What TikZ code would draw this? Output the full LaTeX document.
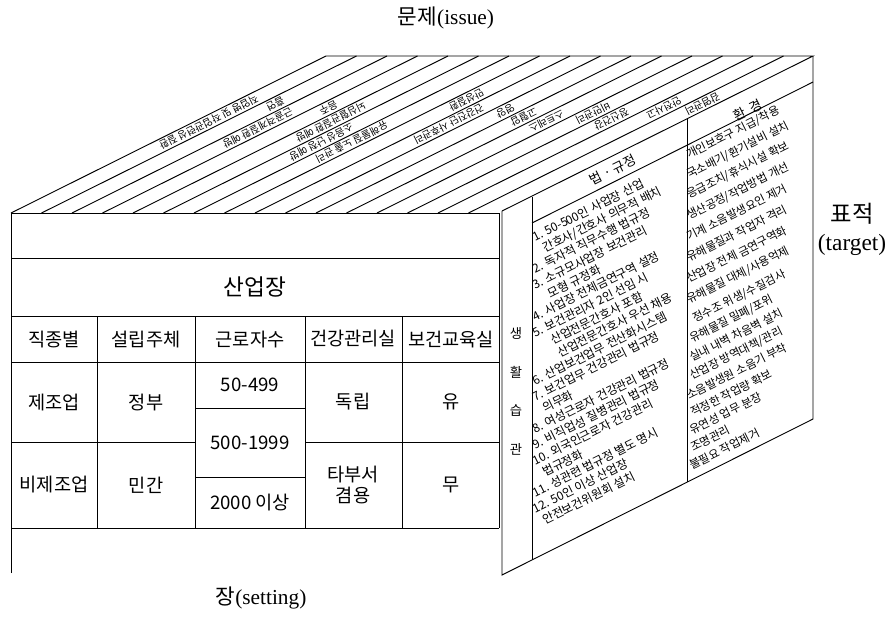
\documentclass[tikz,border=0pt]{standalone}
\usepackage{fontspec}
\setmainfont{Liberation Serif}
\newfontfamily\krfont{Noto Sans CJK KR}
\usetikzlibrary{positioning}
\tikzstyle{edge}=[black,line width=0.7pt]
\tikzstyle{cell}=[font=\krfont\fontsize{14}{16}\selectfont,inner sep=1pt,align=center]
\tikzstyle{lst}=[font=\krfont\fontsize{8.6}{10}\selectfont,rotate=26.57,anchor=base west,inner sep=0pt]
\tikzstyle{lawlst}=[lst,font=\krfont\fontsize{9}{10}\selectfont]
\tikzstyle{hdr}=[font=\krfont\fontsize{10}{11}\selectfont,rotate=26.57,inner sep=0pt]
\tikzstyle{iss}=[font=\krfont\fontsize{7.6}{9}\selectfont,rotate=206.57,inner sep=0pt]
\tikzstyle{ttl}=[font=\fontsize{16}{19}\selectfont,align=center,inner sep=0pt]

\begin{document}
\begin{tikzpicture}[x=0.75pt,y=-0.75pt]
\useasboundingbox (0,0) rectangle (892,619);
% front face (setting)
\coordinate (fl) at (11,213); \coordinate (fr) at (499,213);
\coordinate (bl) at (326,56); \coordinate (br) at (813,56);
\draw[edge] (11,573) -- (fl) -- (fr) -- (499,528);
\draw[edge] (11,258) -- (499,258);
\draw[edge] (11,316) -- (499,316);
\draw[edge] (11,362) -- (499,362);
\draw[edge] (11,528) -- (499,528);
\draw[edge] (11,442) -- (195,442) (305,442) -- (499,442);
\draw[edge] (195,408) -- (305,408) (195,477) -- (305,477);
\foreach \x in {97,195,305,402} \draw[edge] (\x,316) -- (\x,528);
% top face (issue)
\draw[edge] (fl) -- (bl) -- (br) -- (502,211);
\foreach \i in {1,...,15} \draw[edge] ({11+\i*30.5},213) -- ++(315,-157);
% side face (target)
\draw[edge] (502,211) -- (502,575) -- (813,419) -- (br);
\draw[edge] (532,197) -- (532,560);
\draw[edge] (687,119) -- (687,482);
\draw[edge] (532,223) -- (813,82);

% table
\node[cell,font=\krfont\fontsize{17}{20}\selectfont] (sanup) at (255,287) {산업장};
\node[cell] (h1) at (54,339) {직종별};
\node[cell] (h2) at (146,339) {설립주체};
\node[cell] (h3) at (250,339) {근로자수};
\node[cell] (h4) at (353,339) {건강관리실};
\node[cell] (h5) at (451,339) {보건교육실};
\node[cell] (a1) at (54,402) {제조업};
\node[cell] (a2) at (146,402) {정부};
\node[cell] (a3) at (250,385) {50-499};
\node[cell] (a4) at (353,402) {독립};
\node[cell] (a5) at (451,402) {유};
\node[cell] (m3) at (250,443) {500-1999};
\node[cell] (b1) at (54,485) {비제조업};
\node[cell] (b2) at (146,485) {민간};
\node[cell] (b3) at (250,503) {2000 이상};
\node[cell] (b4) at (353,485) {타부서\\겸용};
\node[cell] (b5) at (451,485) {무};

% life style column
\foreach \c/\y in {생/333,활/372,습/410,관/449}
  \node[font=\krfont\fontsize{10}{11}\selectfont] (ls\y) at (516,\y) {\c};

% law column
\node[hdr] (law) at (613,170) {법 · 규정};
\node[lawlst] (l1) at (535,242) {1. 50-500인 사업장 산업};
\node[lawlst] (l2) at (545,253) {간호사/간호사 의무적 배치};
\node[lawlst] (l3) at (535,274) {2. 독자적 직무수행 법규정};
\node[lawlst] (l4) at (535,290) {3. 소규모사업장 보건관리};
\node[lawlst] (l5) at (550,298.5) {모형 규정화};
\node[lawlst] (l6) at (535,322) {4. 사업장 전체금연구역 설정};
\node[lawlst] (l7) at (535,338) {5. 보건관리자 2인 선임 시};
\node[lawlst] (l8) at (553,345) {산업전문간호사 포함};
\node[lawlst] (l9) at (560,357.5) {산업전문간호사 우선 채용};
\node[lawlst] (l10) at (535,386) {6. 산업보건업무 전산화시스템};
\node[lawlst] (l11) at (535,402) {7. 보건업무 건강관리 법규정};
\node[lawlst] (l12) at (545,413) {의무화};
\node[lawlst] (l13) at (535,434) {8. 여성근로자 건강관리 법규정};
\node[lawlst] (l14) at (535,450) {9. 비직업성 질병관리 법규정};
\node[lawlst] (l15) at (535,466) {10. 외국인근로자 건강관리};
\node[lawlst] (l16) at (545,477) {법규정화};
\node[lawlst] (l17) at (535,498) {11. 성관련 법규정 별도 명시};
\node[lawlst] (l18) at (535,514) {12. 50인 이상 산업장};
\node[lawlst] (l19) at (545,525) {안전보건위원회 설치};

% environment column
\node[hdr] (env) at (748,110) {환\ \ 경};
\node[lst] (e1) at (689,159) {개인보호구 지급/착용};
\node[lst] (e2) at (689,179) {국소배기/환기설비 설치};
\node[lst] (e3) at (689,199) {응급조치/휴식시설 확보};
\node[lst] (e4) at (689,220) {생산공정/작업방법 개선};
\node[lst] (e5) at (689,241) {기계 소음발생요인 제거};
\node[lst] (e6) at (689,262) {유해물질과 작업자 격리};
\node[lst] (e7) at (689,283) {산업장 전체 금연구역화};
\node[lst] (e8) at (689,304) {유해물질 대체/사용억제};
\node[lst] (e9) at (695,323) {정수조 위생/수질검사};
\node[lst] (e10) at (692,343) {유해물질 밀폐/포위};
\node[lst] (e11) at (692,362) {실내 내벽 차음벽 설치};
\node[lst] (e12) at (692,380) {산업장 방역대책/관리};
\node[lst] (e13) at (689,400) {소음발생원 소음기 부착};
\node[lst] (e14) at (693,417) {적정한 작업량 확보};
\node[lst] (e15) at (692,435) {유연성 업무 분장};
\node[lst] (e16) at (693,452) {조명관리};
\node[lst] (e17) at (692,470) {불필요 작업제거};

% issues on top face, one per stripe
\foreach \k/\yy/\txt in {1/122/직업병 및 작업관련성 질환, 2/104/흡연,
    3/128/근골격계질환 예방, 4/108/음주, 5/122/뇌심혈관질환 예방,
    6/142/소음성 난청 예방, 7/142/유해물질 노출 관리, 8/100/만성질환,
    9/124/건강진단 사후관리, 10/111/영양, 11/117/고혈압, 12/121/스트레스,
    13/113/비만관리, 14/119/정신건강, 15/108/안전사고, 16/104/감염관리}
  \node[iss] (iss\k) at ({11+30.5*(\k-0.5)+2.006*(213-\yy)},\yy) {\txt};

% titles
\node[ttl] (issue) at (446,18) {{\krfont 문제}(issue)};
\node[ttl,font=\fontsize{17.5}{21}\selectfont] (target) at (852,229) {{\krfont 표적}\\(target)};
\node[ttl] (setting) at (261,598) {{\krfont 장}(setting)};
\end{tikzpicture}
\end{document}
